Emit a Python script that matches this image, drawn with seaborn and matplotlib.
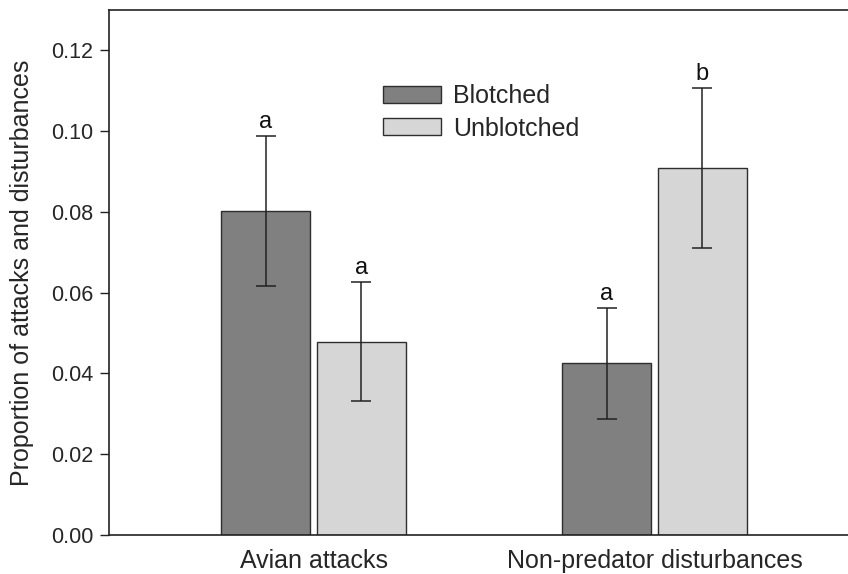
import pandas as pd
import numpy as np
import matplotlib
matplotlib.use("Agg")
import matplotlib.pyplot as plt
import seaborn as sns

sns.set_style("white")
plt.rcParams['font.family'] = ['Liberation Sans', 'DejaVu Sans']

categories = ["Avian attacks", "Non-predator disturbances"]
groups = ["Blotched", "Unblotched"]
blotched = [0.0802, 0.0425]
unblotched = [0.0479, 0.0909]
blotched_err = [0.0186, 0.0137]
unblotched_err = [0.0147, 0.0198]
blotched_letters = ["a", "a"]
unblotched_letters = ["a", "b"]

df = pd.DataFrame({
    "Event": categories * 2,
    "Morph": [groups[0]] * 2 + [groups[1]] * 2,
    "Proportion": blotched + unblotched,
})
errs = blotched_err + unblotched_err
letters = blotched_letters + unblotched_letters

fig = plt.figure(figsize=(8.48, 5.74), dpi=100)
ax = fig.add_axes([109 / 848, 39 / 574, 1 - 109 / 848, 525 / 574])

sns.barplot(
    data=df, x="Event", y="Proportion", hue="Morph",
    palette=["#808080", "#d6d6d6"], width=0.56, gap=0.07,
    edgecolor="#2e2e2e", linewidth=1, errorbar=None, ax=ax
)

bars = [p for p in ax.patches if p.get_height() > 0][:4]
bars = sorted(bars, key=lambda p: (p.get_facecolor()[0] > 0.6, p.get_x()))
for bar, e, lab in zip(bars, errs, letters):
    xc = bar.get_x() + bar.get_width() / 2
    h = bar.get_height()
    ax.errorbar(xc, h, yerr=e, fmt="none", ecolor="#222222",
                elinewidth=1.1, capsize=7.5, capthick=1.1)
    ax.text(xc, h + e + 0.0008, lab, ha="center", va="bottom",
            fontsize=17, color="#111111")

ax.set_xlim(-0.6, 1.567)
ax.set_ylim(0, 0.13)
ax.set_yticks(np.arange(0, 0.121, 0.02))
ax.set_yticklabels([f"{v:.2f}" for v in np.arange(0, 0.121, 0.02)])
ax.set_xlabel("")
ax.set_ylabel("Proportion of attacks and disturbances", fontsize=18, labelpad=12)
ax.tick_params(axis="y", direction="out", length=6.5, width=1, labelsize=15.5,
               left=True, color="#222222", pad=5)
ax.tick_params(axis="x", length=0, labelsize=18, pad=10)
for s in ["left", "bottom", "top"]:
    ax.spines[s].set_color("#222222")
    ax.spines[s].set_linewidth(1.2)
ax.spines["right"].set_visible(False)

leg = ax.legend(loc="center left", bbox_to_anchor=(274 / 739, 0.805), frameon=False,
                fontsize=18, handlelength=2.3, handleheight=0.65,
                handletextpad=0.5, labelspacing=0.33, title=None,
                borderpad=0, borderaxespad=0)

fig.savefig("out.png", dpi=100)
